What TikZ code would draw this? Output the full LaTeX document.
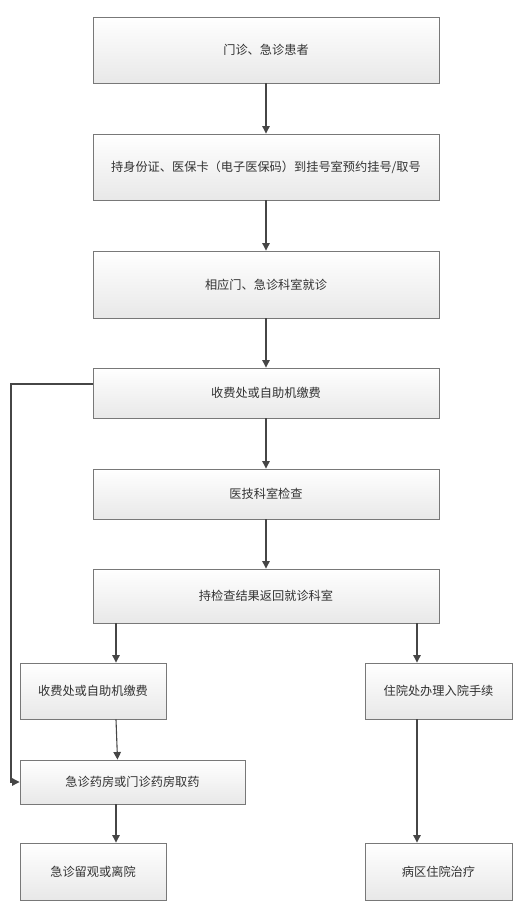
\documentclass[tikz,border=0pt]{standalone}
\usepackage{fontspec}
\newfontfamily\cjk{Noto Sans CJK SC}
\usetikzlibrary{arrows.meta,shadows,calc}
\definecolor{boxline}{RGB}{120,120,120}
\definecolor{conn}{RGB}{70,70,70}
\definecolor{txt}{RGB}{50,50,50}
\tikzset{
  flowbox/.style={draw=boxline, line width=0.9pt, rectangle, inner sep=0pt,
    top color=white, bottom color=black!9,
    drop shadow={shadow xshift=1.2pt, shadow yshift=-1.2pt, fill=black!25, opacity=0.6},
    text=txt, font=\cjk\fontsize{12.2}{14}\selectfont},
  conn/.style={draw=conn, line width=1.1pt, -{Triangle[length=7.5pt,width=7.5pt]}}
}
\newcommand{\pbox}[6]{%
  \node[flowbox, minimum width={(#4-#2)*1pt}, minimum height={(#5-#3)*1pt}]
    (#1) at ({(#2+#4)/2*1pt},{-(#3+#5)/2*1pt}) {#6};}
\begin{document}
\begin{tikzpicture}[x=1pt,y=1pt]
\useasboundingbox (0,0) rectangle (516,-913);
\pbox{b1}{93}{17}{439}{83}{门诊、急诊患者}
\pbox{b2}{93}{134}{439}{200}{持身份证、医保卡（电子医保码）到挂号室预约挂号/取号}
\pbox{b3}{93}{251}{439}{318}{相应门、急诊科室就诊}
\pbox{b4}{93}{368}{439}{418}{收费处或自助机缴费}
\pbox{b5}{93}{469}{439}{519}{医技科室检查}
\pbox{b6}{93}{569}{439}{623}{持检查结果返回就诊科室}
\pbox{b7}{20}{663}{166}{719}{收费处或自助机缴费}
\pbox{b8}{20}{760}{245}{804}{急诊药房或门诊药房取药}
\pbox{b9}{20}{843}{166}{900}{急诊留观或离院}
\pbox{r1}{365}{663}{512}{719}{住院处办理入院手续}
\pbox{r2}{365}{843}{512}{900}{病区住院治疗}

\draw[conn] (b1.south) -- (b2.north);
\draw[conn] (b2.south) -- (b3.north);
\draw[conn] (b3.south) -- (b4.north);
\draw[conn] (b4.south) -- (b5.north);
\draw[conn] (b5.south) -- (b6.north);
\draw[conn] (b6.south -| 116,0) -- (b7.north -| 116,0);
\draw[conn] (b6.south -| 417,0) -- (r1.north -| 417,0);
\draw[conn] (b7.south -| 116,0) -- (b8.north -| 117.5,0);
\draw[conn] (b8.south -| 116,0) -- (b9.north -| 116,0);
\draw[conn] (r1.south -| 417,0) -- (r2.north -| 417,0);
\coordinate (fbtop) at (11,-384);
\draw[conn] (b4.west |- fbtop) -- (fbtop) |- (b8.west);
\end{tikzpicture}
\end{document}
